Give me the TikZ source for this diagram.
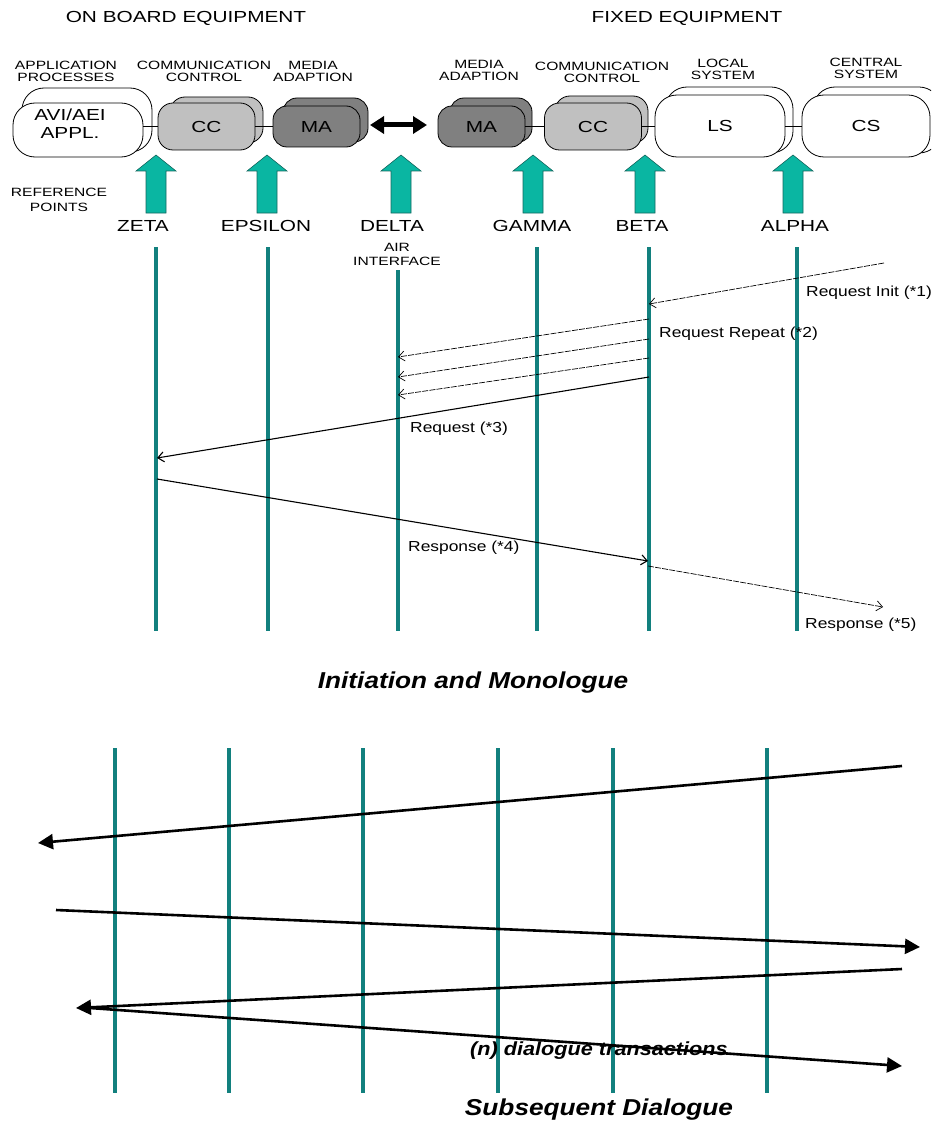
\documentclass[tikz,border=0pt]{standalone}
\usepackage{fontspec}
\setmainfont{Liberation Sans}
\newfontfamily\widesans{Liberation Sans}[FakeStretch=1.3]
\newfontfamily\msgsans{Liberation Sans}[FakeStretch=1.2]
\newfontfamily\titlesans{Liberation Sans}[FakeStretch=1.14]
\usetikzlibrary{arrows.meta,calc}

\definecolor{lifeteal}{RGB}{18,128,126}
\definecolor{refteal}{RGB}{10,182,162}
\definecolor{refedge}{RGB}{20,105,96}
\definecolor{ccgray}{RGB}{192,192,192}
\definecolor{magray}{RGB}{128,128,128}

\tikzset{
  hdr/.style={font=\widesans\fontsize{16}{16}\selectfont, inner sep=0pt, align=center},
  smalllbl/.style={font=\widesans\fontsize{12}{12}\selectfont, inner sep=0pt, align=center},
  msglbl/.style={font=\msgsans\fontsize{14.5}{14.5}\selectfont, inner sep=0pt, anchor=west},
  ttl/.style={font=\titlesans\bfseries\itshape\fontsize{23}{23}\selectfont, inner sep=0pt},
  boxbase/.style={draw=black, line width=0.8pt, inner sep=0pt,
    font=\widesans\fontsize{16}{19}\selectfont, align=center},
  bigbox/.style={boxbase, fill=white, rounded corners=22pt},
  ccbox/.style={boxbase, fill=ccgray, rounded corners=15pt},
  mabox/.style={boxbase, fill=magray, rounded corners=14pt},
  link/.style={draw=black, line width=0.7pt},
  life/.style={draw=lifeteal, line width=4.5pt},
  thinmsg/.style={draw=black, line width=0.7pt, dash pattern=on 6pt off 1.2pt,
    -{Straight Barb[length=6pt,width=10pt]}},
  solidmsg/.style={draw=black, line width=1.1pt,
    -{Straight Barb[length=6pt,width=10pt]}},
  bigmsg/.style={draw=black, line width=2.6pt,
    -{Triangle[length=15pt,width=15pt]}},
  refarrow/.pic={
    \filldraw[fill=refteal, draw=refedge, line width=0.6pt]
      (0,0) -- (20,16) -- (10,16) -- (10,58) -- (-10,58) -- (-10,16) -- (-20,16) -- cycle;
  }
}

\begin{document}
\begin{tikzpicture}[x=1pt,y=-1pt]
\clip (0,0) rectangle (931,1126);
\fill[white] (0,0) rectangle (931,1126);

% ---------- headings ----------
\node[hdr] (onboard) at (186,18) {ON BOARD EQUIPMENT};
\node[hdr] (fixed) at (687,18) {FIXED EQUIPMENT};

\node[smalllbl] (lapp) at (66,71) {APPLICATION\\PROCESSES};
\node[smalllbl] (lccl) at (204,71) {COMMUNICATION\\CONTROL};
\node[smalllbl] (lmal) at (313,71) {MEDIA\\ADAPTION};
\node[smalllbl] (lmar) at (479,70) {MEDIA\\ADAPTION};
\node[smalllbl] (lccr) at (602,72) {COMMUNICATION\\CONTROL};
\node[smalllbl] (lls) at (723,69) {LOCAL\\SYSTEM};
\node[smalllbl] (lcs) at (866,68) {CENTRAL\\SYSTEM};

% ---------- stacked equipment boxes ----------
\node[bigbox, minimum width=130pt, minimum height=64pt] (avib) at (87,120) {};
\node[bigbox, minimum width=130pt, minimum height=54pt] (avif) at (78,130) {};
\node[font=\widesans\fontsize{16}{18}\selectfont, align=center, inner sep=0pt] (avitxt) at (70,124) {AVI/AEI\\APPL.};

\node[ccbox, minimum width=93pt, minimum height=46pt] (cclb) at (216.5,120) {};
\node[ccbox, minimum width=97pt, minimum height=47pt] (cclf) at (206.5,126.5) {CC};

\node[mabox, minimum width=85pt, minimum height=44pt] (malb) at (325.5,120) {};
\node[mabox, minimum width=87pt, minimum height=41pt] (malf) at (316.5,126.5) {MA};

\node[mabox, minimum width=82pt, minimum height=44pt] (marb) at (491,120) {};
\node[mabox, minimum width=87pt, minimum height=41pt] (marf) at (481.5,126.5) {MA};

\node[ccbox, minimum width=93pt, minimum height=47pt] (ccrb) at (601.5,119.5) {};
\node[ccbox, minimum width=97pt, minimum height=47pt] (ccrf) at (593,126.5) {CC};

\node[bigbox, minimum width=128pt, minimum height=66pt] (lsb) at (729,120) {};
\node[bigbox, minimum width=130pt, minimum height=62pt] (lsf) at (720,126) {LS};

\node[bigbox, minimum width=128pt, minimum height=66pt] (csb) at (877,120) {};
\node[bigbox, minimum width=128pt, minimum height=62pt] (csf) at (866,126) {CS};

% links between boxes
\draw[link] (avif.east |- cclf.west) -- (cclf.west);
\draw[link] (cclf.east) -- (malf.west);
\draw[link] (marf.east) -- (ccrf.west);
\draw[link] (ccrf.east) -- (lsf.west |- ccrf.east);
\draw[link] (lsf.east) -- (csf.west);

% air link
\coordinate (airL) at (370,125);
\coordinate (airR) at (427,125);
\draw[line width=5pt, {Triangle[length=14pt,width=17pt]}-{Triangle[length=14pt,width=17pt]}] (airL) -- (airR);

% ---------- reference points ----------
\node[smalllbl, font=\widesans\fontsize{12}{15}\selectfont] (refpts) at (59,200) {REFERENCE\\POINTS};

\pic (pzeta) at (156,155) {refarrow};
\pic (peps) at (267,155) {refarrow};
\pic (pdelta) at (401,155) {refarrow};
\pic (pgamma) at (533,155) {refarrow};
\pic (pbeta) at (645,155) {refarrow};
\pic (palpha) at (793,155) {refarrow};

\node[hdr] (nzeta) at (143,226) {ZETA};
\node[hdr] (neps) at (266,226) {EPSILON};
\node[hdr] (ndelta) at (392,226) {DELTA};
\node[hdr] (ngamma) at (532,226) {GAMMA};
\node[hdr] (nbeta) at (642,226) {BETA};
\node[hdr] (nalpha) at (795,226) {ALPHA};

\node[smalllbl, font=\widesans\fontsize{12}{14}\selectfont] (air) at (397,254) {AIR\\INTERFACE};

% ---------- lifelines, initiation ----------
\coordinate (zetaT) at (156,247);  \coordinate (zetaB) at (156,631);
\coordinate (epsT) at (268,247);   \coordinate (epsB) at (268,631);
\coordinate (deltaT) at (398,270); \coordinate (deltaB) at (398,631);
\coordinate (gammaT) at (537,247); \coordinate (gammaB) at (537,631);
\coordinate (betaT) at (649,247);  \coordinate (betaB) at (649,631);
\coordinate (alphaT) at (797,247); \coordinate (alphaB) at (797,631);
\foreach \n in {zeta,eps,delta,gamma,beta,alpha}
  \draw[life] (\n T) -- (\n B);

% ---------- messages, initiation ----------
\coordinate (initS) at (884,263);  \coordinate (initE) at (649,304);
\coordinate (rep1S) at (649,319);  \coordinate (rep1E) at (398,357);
\coordinate (rep2S) at (649,339);  \coordinate (rep2E) at (398,377);
\coordinate (rep3S) at (649,358);  \coordinate (rep3E) at (398,395);
\coordinate (reqS) at (649,377);   \coordinate (reqE) at (157,458);
\coordinate (resS) at (157,479);   \coordinate (resE) at (648,561);
\coordinate (res5S) at (648,566);  \coordinate (res5E) at (883,607);

\draw[thinmsg] (initS) -- (initE);
\draw[thinmsg] (rep1S) -- (rep1E);
\draw[thinmsg] (rep2S) -- (rep2E);
\draw[thinmsg] (rep3S) -- (rep3E);
\draw[solidmsg] (reqS) -- (reqE);
\draw[solidmsg] (resS) -- (resE);
\draw[thinmsg] (res5S) -- (res5E);

\node[msglbl] (linit) at (806,293) {Request Init (*1)};
\node[msglbl] (lrep) at (659,334) {Request Repeat (*2)};
\node[msglbl] (lreq) at (410,429) {Request (*3)};
\node[msglbl] (lres4) at (408,548) {Response (*4)};
\node[msglbl] (lres5) at (805,625) {Response (*5)};

\node[ttl] (tinit) at (473,683) {Initiation and Monologue};

% ---------- lifelines, dialogue ----------
\foreach \n/\x in {d1/115,d2/229,d3/363,d4/498,d5/613,d6/767} {
  \coordinate (\n T) at (\x,748);
  \coordinate (\n B) at (\x,1093);
  \draw[life] (\n T) -- (\n B);
}

% ---------- dialogue transactions ----------
\coordinate (t1S) at (902,766);  \coordinate (t1E) at (38,843);
\coordinate (t2S) at (56,910);   \coordinate (t2E) at (920,947);
\coordinate (t3S) at (902,969);  \coordinate (t3E) at (76,1008);
\coordinate (t4S) at (90,1008);  \coordinate (t4E) at (902,1066);
\draw[bigmsg] (t1S) -- (t1E);
\draw[bigmsg] (t2S) -- (t2E);
\draw[bigmsg] (t3S) -- (t3E);
\draw[bigmsg] (t4S) -- (t4E);

\node[ttl, font=\titlesans\bfseries\itshape\fontsize{19}{19}\selectfont, anchor=west] (ntrans) at (470,1051) {(n) dialogue transactions};
\node[ttl] (tdial) at (599,1110) {Subsequent Dialogue};
\end{tikzpicture}
\end{document}
